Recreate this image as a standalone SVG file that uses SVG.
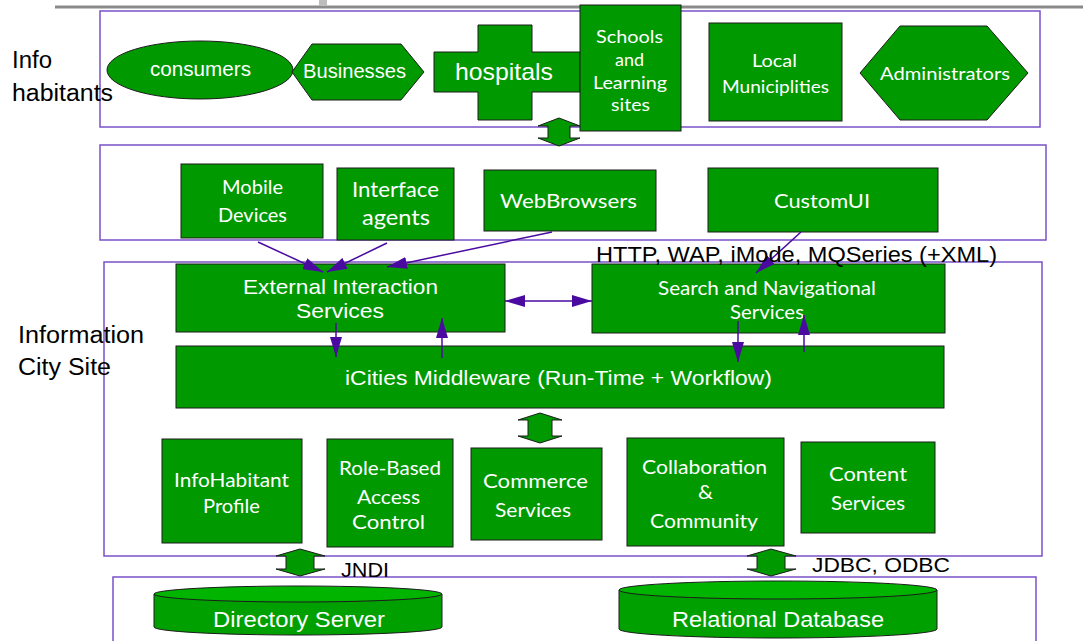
<svg xmlns="http://www.w3.org/2000/svg" width="1083" height="641" viewBox="0 0 1083 641">
  <style>
    .box { fill: #009900; stroke: #1c1c1c; stroke-width: 1; }
    .zone { fill: #ffffff; stroke: #7a50c8; stroke-width: 1.5; }
    .blk { fill: #009900; stroke: #1c1c1c; stroke-width: 1; }
    .cyl { fill: #00a000; stroke: #1c1c1c; stroke-width: 1; }
    .cyltop { fill: #00b400; stroke: #1c1c1c; stroke-width: 1; }
    .link { stroke: #4a0aa0; stroke-width: 1.5; fill: none; }
    .ar { font-family: "Liberation Sans", Arial, sans-serif; fill: #ffffff; }
    .gs { font-family: Lato, "Open Sans", sans-serif; fill: #ffffff; }
    .lbl { font-family: "Liberation Sans", Arial, sans-serif; fill: #000000; }
  </style>
  <defs>
    <marker id="head" viewBox="0 0 20 12" refX="20" refY="6" markerWidth="20" markerHeight="12" markerUnits="userSpaceOnUse" orient="auto-start-reverse">
      <path d="M0,0 L20,6 L0,12 z" fill="#4a0aa0"/>
    </marker>
  </defs>

  <!-- header rule -->
  <line x1="55" y1="7" x2="1083" y2="7" stroke="#8a8a8a" stroke-width="3"/>
  <rect x="319" y="0" width="8" height="6" fill="#bdbdbd"/>

  <!-- layer frames -->
  <g id="layer-habitants">
    <rect class="zone" x="100" y="11" width="940" height="116"/>
    <text class="lbl" x="12" y="68" font-size="23" textLength="40" lengthAdjust="spacingAndGlyphs">Info</text>
    <text class="lbl" x="12" y="101" font-size="23" textLength="101" lengthAdjust="spacingAndGlyphs">habitants</text>
  </g>
  <g id="layer-clients">
    <rect class="zone" x="100" y="145" width="946" height="95"/>
  </g>
  <g id="layer-city">
    <rect class="zone" x="104" y="262" width="938" height="294"/>
    <text class="lbl" x="18" y="343" font-size="23" textLength="126" lengthAdjust="spacingAndGlyphs">Information</text>
    <text class="lbl" x="18" y="375" font-size="23" textLength="93" lengthAdjust="spacingAndGlyphs">City Site</text>
  </g>
  <g id="layer-storage">
    <rect class="zone" x="113" y="577" width="923" height="80"/>
  </g>

  <!-- info habitants -->
  <g id="consumers">
    <ellipse class="box" cx="200" cy="70" rx="93" ry="29"/>
    <text class="ar" x="150" y="76" font-size="20" textLength="101" lengthAdjust="spacingAndGlyphs">consumers</text>
  </g>
  <g id="businesses">
    <polygon class="box" points="292,72 312,44 401,44 424,72 401,100 312,100"/>
    <text class="ar" x="303" y="78" font-size="21" textLength="103" lengthAdjust="spacingAndGlyphs">Businesses</text>
  </g>
  <g id="hospitals">
    <polygon class="box" points="478,25 532,25 532,52 580,52 580,92 532,92 532,120 478,120 478,92 434,92 434,52 478,52"/>
    <text class="ar" x="455" y="80" font-size="24" textLength="98" lengthAdjust="spacingAndGlyphs">hospitals</text>
  </g>
  <g id="schools">
    <rect class="box" x="580" y="5" width="101" height="126"/>
    <text class="gs" x="596" y="43" font-size="17" textLength="67" lengthAdjust="spacingAndGlyphs">Schools</text>
    <text class="gs" x="615" y="66" font-size="17" textLength="29" lengthAdjust="spacingAndGlyphs">and</text>
    <text class="gs" x="593" y="89" font-size="17" textLength="74" lengthAdjust="spacingAndGlyphs">Learning</text>
    <text class="gs" x="611" y="111" font-size="17" textLength="39" lengthAdjust="spacingAndGlyphs">sites</text>
  </g>
  <g id="municipalities">
    <rect class="box" x="709" y="23" width="133" height="98"/>
    <text class="gs" x="752" y="67" font-size="18" textLength="45" lengthAdjust="spacingAndGlyphs">Local</text>
    <text class="gs" x="722" y="93" font-size="18" textLength="107" lengthAdjust="spacingAndGlyphs">Municiplities</text>
  </g>
  <g id="administrators">
    <polygon class="box" points="860,73 900,26 987,26 1028,73 987,120 900,120"/>
    <text class="gs" x="880" y="80" font-size="18" textLength="130" lengthAdjust="spacingAndGlyphs">Administrators</text>
  </g>

  <!-- client channels -->
  <g id="mobile">
    <rect class="box" x="181" y="164" width="142" height="74"/>
    <text class="gs" x="222" y="194" font-size="19" textLength="61" lengthAdjust="spacingAndGlyphs">Mobile</text>
    <text class="gs" x="218" y="222" font-size="19" textLength="69" lengthAdjust="spacingAndGlyphs">Devices</text>
  </g>
  <g id="agents">
    <rect class="box" x="337" y="168" width="117" height="72"/>
    <text class="gs" x="352" y="197" font-size="22" textLength="87" lengthAdjust="spacingAndGlyphs">Interface</text>
    <text class="gs" x="362" y="225" font-size="22" textLength="68" lengthAdjust="spacingAndGlyphs">agents</text>
  </g>
  <g id="browsers">
    <rect class="box" x="484" y="170" width="172" height="61"/>
    <text class="gs" x="500" y="208" font-size="19" textLength="137" lengthAdjust="spacingAndGlyphs">WebBrowsers</text>
  </g>
  <g id="customui">
    <rect class="box" x="708" y="168" width="230" height="64"/>
    <text class="gs" x="774" y="208" font-size="19" textLength="96" lengthAdjust="spacingAndGlyphs">CustomUI</text>
  </g>

  <!-- city site services -->
  <g id="external">
    <rect class="box" x="176" y="264" width="329" height="68"/>
    <text class="ar" x="243" y="294" font-size="21" textLength="195" lengthAdjust="spacingAndGlyphs">External Interaction</text>
    <text class="ar" x="296" y="318" font-size="21" textLength="88" lengthAdjust="spacingAndGlyphs">Services</text>
  </g>
  <g id="search">
    <rect class="box" x="592" y="264" width="353" height="69"/>
    <text class="gs" x="658" y="295" font-size="19" textLength="218" lengthAdjust="spacingAndGlyphs">Search and Navigational</text>
    <text class="gs" x="730" y="319" font-size="19" textLength="74" lengthAdjust="spacingAndGlyphs">Services</text>
  </g>
  <g id="middleware">
    <rect class="box" x="176" y="346" width="768" height="62"/>
    <text class="ar" x="345" y="385" font-size="21" textLength="427" lengthAdjust="spacingAndGlyphs">iCities Middleware (Run-Time + Workflow)</text>
  </g>
  <g id="profile">
    <rect class="box" x="162" y="439" width="140" height="104"/>
    <text class="gs" x="174" y="487" font-size="19" textLength="115" lengthAdjust="spacingAndGlyphs">InfoHabitant</text>
    <text class="gs" x="203" y="513" font-size="19" textLength="57" lengthAdjust="spacingAndGlyphs">Profile</text>
  </g>
  <g id="access">
    <rect class="box" x="327" y="439" width="126" height="108"/>
    <text class="gs" x="339" y="475" font-size="19" textLength="102" lengthAdjust="spacingAndGlyphs">Role-Based</text>
    <text class="gs" x="357" y="504" font-size="19" textLength="63" lengthAdjust="spacingAndGlyphs">Access</text>
    <text class="gs" x="352" y="529" font-size="19" textLength="73" lengthAdjust="spacingAndGlyphs">Control</text>
  </g>
  <g id="commerce">
    <rect class="box" x="471" y="448" width="131" height="92"/>
    <text class="gs" x="483" y="488" font-size="19" textLength="105" lengthAdjust="spacingAndGlyphs">Commerce</text>
    <text class="gs" x="495" y="517" font-size="19" textLength="76" lengthAdjust="spacingAndGlyphs">Services</text>
  </g>
  <g id="collaboration">
    <rect class="box" x="627" y="438" width="157" height="108"/>
    <text class="gs" x="642" y="474" font-size="19" textLength="125" lengthAdjust="spacingAndGlyphs">Collaboration</text>
    <text class="gs" x="698" y="499" font-size="19" textLength="15" lengthAdjust="spacingAndGlyphs">&amp;</text>
    <text class="gs" x="650" y="528" font-size="19" textLength="108" lengthAdjust="spacingAndGlyphs">Community</text>
  </g>
  <g id="content">
    <rect class="box" x="801" y="442" width="134" height="91"/>
    <text class="gs" x="829" y="481" font-size="19" textLength="78" lengthAdjust="spacingAndGlyphs">Content</text>
    <text class="gs" x="831" y="510" font-size="19" textLength="74" lengthAdjust="spacingAndGlyphs">Services</text>
  </g>

  <!-- data stores -->
  <g id="directory">
    <path class="cyl" d="M154,594 L154,627 A144,8 0 0 0 442,627 L442,594 z"/>
    <ellipse class="cyltop" cx="298" cy="594" rx="144" ry="8"/>
    <text class="ar" x="213" y="627" font-size="22" textLength="172" lengthAdjust="spacingAndGlyphs">Directory Server</text>
  </g>
  <g id="database">
    <path class="cyl" d="M619,590 L619,629 A159,9 0 0 0 937,629 L937,590 z"/>
    <ellipse class="cyltop" cx="778" cy="590" rx="159" ry="9"/>
    <text class="ar" x="672" y="627" font-size="22" textLength="212" lengthAdjust="spacingAndGlyphs">Relational Database</text>
  </g>

  <!-- connectors -->
  <g id="connectors">
    <polygon class="blk" points="559,118 538,126 548,126 548,138 538,138 559,146 580,138 570,138 570,126 580,126"/>
    <polygon class="blk" points="540,413 518,420 528,420 528,436 518,436 540,443 562,436 552,436 552,420 562,420"/>
    <polygon class="blk" points="300,549 276,556 286,556 286,569 276,569 300,576 325,569 314,569 314,556 325,556"/>
    <polygon class="blk" points="771,549 747,556 757,556 757,569 747,569 771,576 796,569 785,569 785,556 796,556"/>

    <line class="link" x1="258" y1="242" x2="323" y2="272" marker-end="url(#head)"/>
    <line class="link" x1="387" y1="243" x2="327" y2="272" marker-end="url(#head)"/>
    <line class="link" x1="552" y1="232" x2="387" y2="267" marker-end="url(#head)"/>
    <line class="link" x1="801" y1="232" x2="756" y2="273" marker-end="url(#head)"/>
    <line class="link" x1="505" y1="301" x2="592" y2="301" marker-start="url(#head)" marker-end="url(#head)"/>
    <line class="link" x1="336" y1="323" x2="336" y2="357" marker-end="url(#head)"/>
    <line class="link" x1="442" y1="358" x2="442" y2="318" marker-end="url(#head)"/>
    <line class="link" x1="738" y1="321" x2="738" y2="362" marker-end="url(#head)"/>
    <line class="link" x1="804" y1="352" x2="804" y2="315" marker-end="url(#head)"/>

    <text class="lbl" x="596" y="262" font-size="22" textLength="401" lengthAdjust="spacingAndGlyphs">HTTP, WAP, iMode, MQSeries (+XML)</text>
    <text class="lbl" x="341" y="577" font-size="20" textLength="48" lengthAdjust="spacingAndGlyphs">JNDI</text>
    <text class="lbl" x="812" y="572" font-size="21" textLength="138" lengthAdjust="spacingAndGlyphs">JDBC, ODBC</text>
  </g>
</svg>
